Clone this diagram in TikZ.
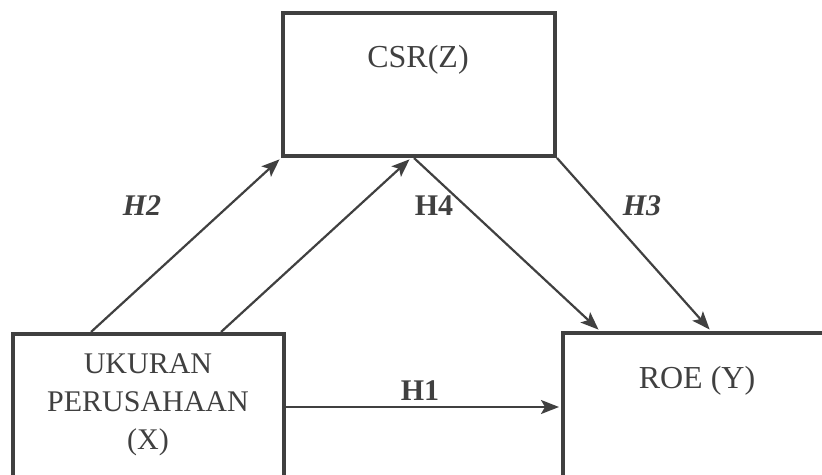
\documentclass[tikz,border=0pt]{standalone}
\usepackage{fontspec}
\setmainfont{Liberation Serif}
\usepackage{tikz}
\usetikzlibrary{arrows,arrows.meta}
\usetikzlibrary{calc,positioning}
\definecolor{inkgray}{HTML}{404040}
\tikzset{
 varbox/.style={draw=inkgray, line width=4pt, inner sep=0pt},
 vartext/.style={inkgray, inner sep=0pt, align=center, font=\fontsize{30}{38}\selectfont},
 hyplabel/.style={inkgray, inner sep=0pt, anchor=base, font=\fontsize{30}{34}\selectfont\bfseries},
 hyparrow/.style={inkgray, line width=2.2pt, ->, >={Stealth[length=18pt,width=14pt,inset=4pt]}, shorten >=2pt}
}

\begin{document}
\begin{tikzpicture} [x=1pt, y=-1pt]
\useasboundingbox (0,0) rectangle (822,474);
\clip (0,0) rectangle (822,474);
% variable boxes
\node[varbox, minimum width=272pt, minimum height=143pt] (csr) at (419,84.5) {};
\node[varbox, minimum width=271pt, minimum height=186pt] (ukuran) at (148.5,427) {};
\node[varbox, minimum width=297pt, minimum height=187pt] (roe) at (711.5,426.5) {};
\node[vartext, anchor=base, font=\fontsize{32}{38}\selectfont] (csrtext) at (418,67) {CSR(Z)};
\node[vartext, anchor=north] (ukurantext) at (148,353) {UKURAN\\PERUSAHAAN\\(X)};
\node[vartext, anchor=base, font=\fontsize{32}{38}\selectfont] (roetext) at (697,388) {ROE (Y)};
% hypotheses
\draw[hyparrow] ($(ukuran.north west)+(80,0)$) -- (csr.south west);
\draw[hyparrow] ($(ukuran.north west)+(210,0)$) -- ($(csr.south west)+(130,0)$);
\draw[hyparrow] ($(csr.south west)+(133,0)$) -- ($(roe.north west)+(39,0)$);
\draw[hyparrow] (csr.south east) -- ($(roe.north west)+(150,0)$);
\draw[hyparrow] ($(ukuran.north east)+(0,75)$) -- ($(roe.north west)+(0,76)$);
\node[hyplabel] (h2) at (142,215) {\itshape H2};
\node[hyplabel] (h4) at (434,215) {H4};
\node[hyplabel] (h3) at (642,215) {\itshape H3};
\node[hyplabel] (h1) at (420,400) {H1};
\end{tikzpicture}
\end{document}
